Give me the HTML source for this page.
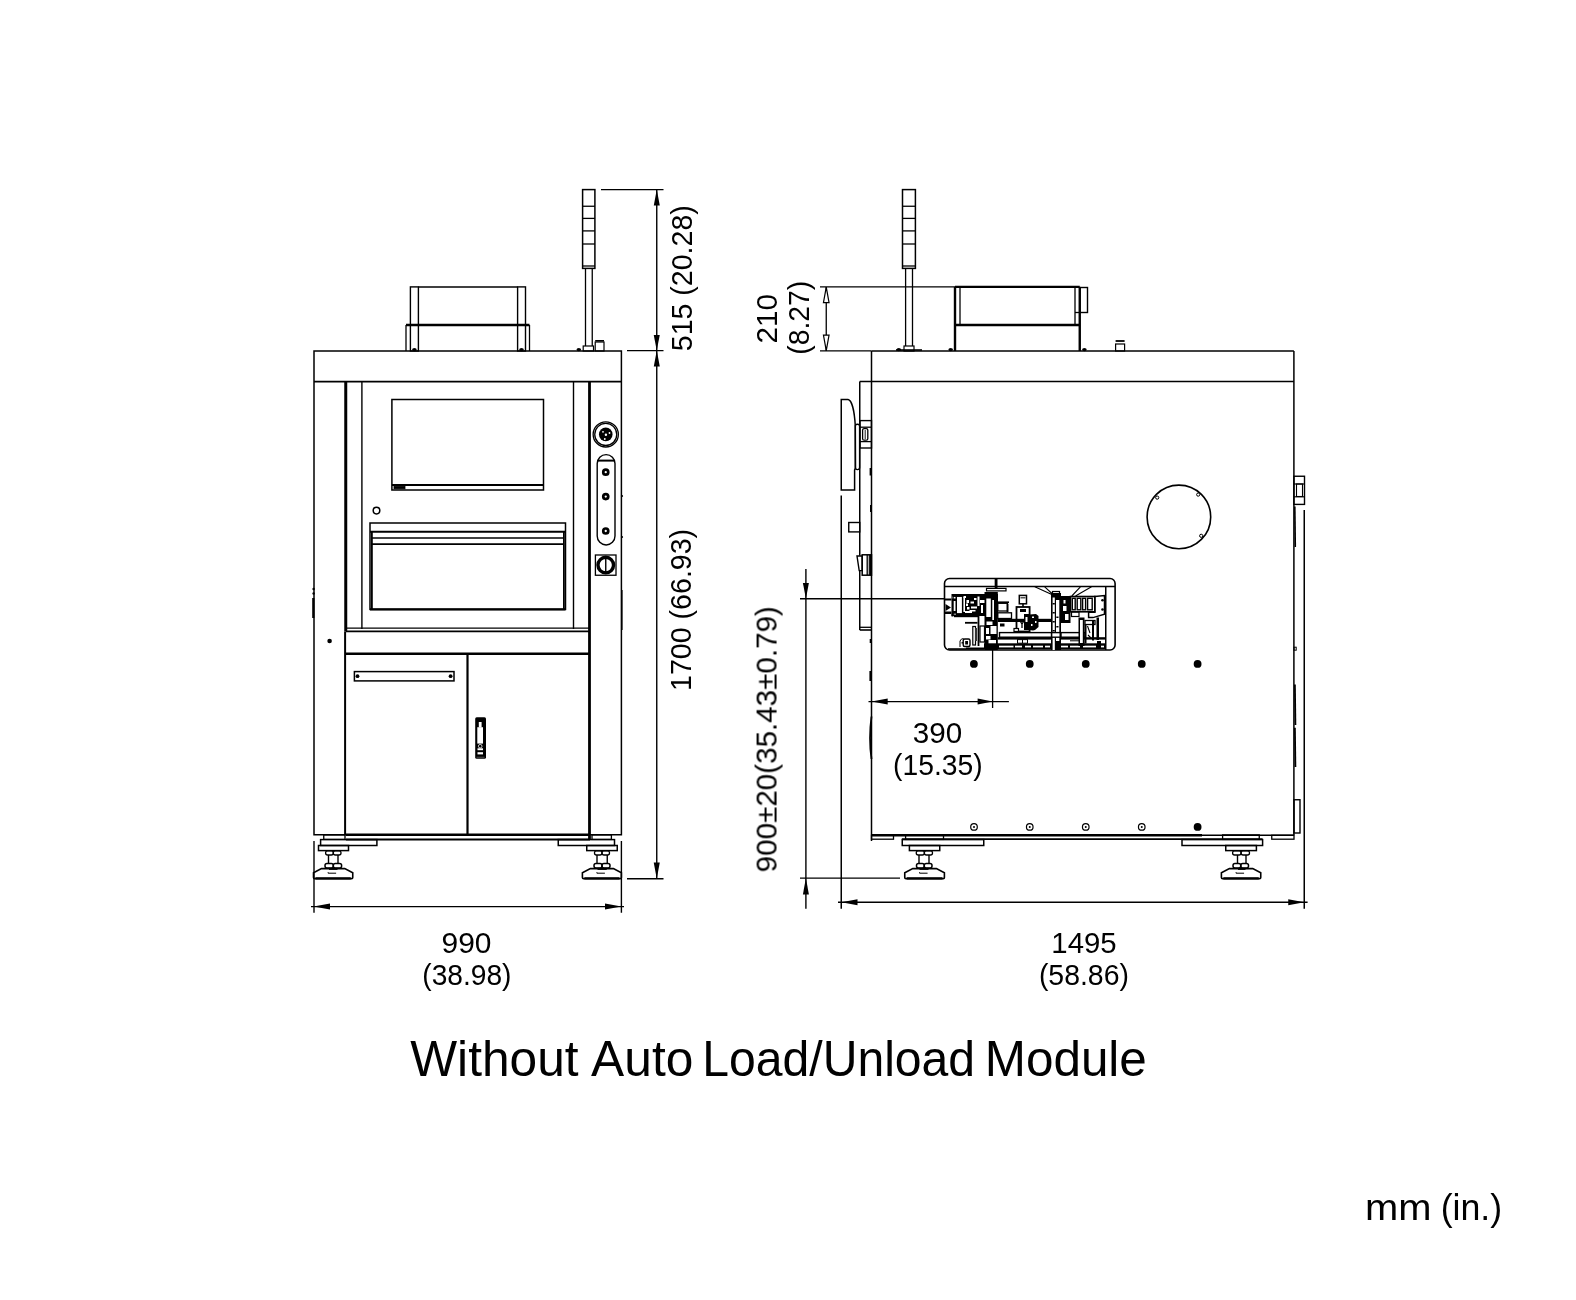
<!DOCTYPE html>
<html><head><meta charset="utf-8"><style>
html,body{margin:0;padding:0;background:#fff;}
svg{display:block;}
text{font-family:"Liberation Sans",sans-serif;fill:#000;stroke:none;}
</style></head><body>
<svg width="1576" height="1300" viewBox="0 0 1576 1300">
<rect x="0" y="0" width="1576" height="1300" fill="#fff"/>
<g stroke="#000" fill="none" stroke-linecap="butt">
<rect x="410.4" y="286.9" width="8.0" height="64.1" stroke-width="1.4" fill="none"/>
<rect x="517.6" y="286.9" width="7.9" height="64.1" stroke-width="1.4" fill="none"/>
<line x1="418.4" y1="286.9" x2="517.6" y2="286.9" stroke-width="1.5"/>
<line x1="406" y1="325" x2="529.5" y2="325" stroke-width="2.4"/>
<line x1="406" y1="325" x2="406" y2="351" stroke-width="1.3"/>
<line x1="529.5" y1="325" x2="529.5" y2="351" stroke-width="1.3"/>
<rect x="582.6" y="189.6" width="12.3" height="78.8" stroke-width="1.5" fill="none"/>
<line x1="582.6" y1="206.25" x2="594.9" y2="206.25" stroke-width="1.3"/>
<line x1="582.6" y1="218.4" x2="594.9" y2="218.4" stroke-width="1.3"/>
<line x1="582.6" y1="230.9" x2="594.9" y2="230.9" stroke-width="1.3"/>
<line x1="582.6" y1="244" x2="594.9" y2="244" stroke-width="1.3"/>
<line x1="582.6" y1="266" x2="594.9" y2="266" stroke-width="1.3"/>
<line x1="585.5" y1="268.4" x2="585.5" y2="346" stroke-width="1.3"/>
<line x1="592.25" y1="268.4" x2="592.25" y2="346" stroke-width="1.3"/>
<rect x="583.2" y="346" width="10.3" height="5" stroke-width="1.2" fill="none"/>
<rect x="595.2" y="342" width="8.8" height="9" stroke-width="1.2" fill="none"/>
<line x1="595.2" y1="340.8" x2="604" y2="340.8" stroke-width="1.6"/>
<ellipse cx="414.4" cy="349.6" rx="2.3" ry="1.6" fill="#000" stroke="none"/>
<ellipse cx="521.5" cy="349.6" rx="2.3" ry="1.6" fill="#000" stroke="none"/>
<ellipse cx="578.8" cy="349.6" rx="2.3" ry="1.6" fill="#000" stroke="none"/>
<ellipse cx="950.7" cy="349.6" rx="2.3" ry="1.6" fill="#000" stroke="none"/>
<ellipse cx="1084.4" cy="349.6" rx="2.3" ry="1.6" fill="#000" stroke="none"/>
<ellipse cx="898.8" cy="349.6" rx="2.3" ry="1.6" fill="#000" stroke="none"/>
<rect x="314" y="351" width="307.4" height="483.75" stroke-width="1.5" fill="none"/>
<line x1="314" y1="381.6" x2="621.4" y2="381.6" stroke-width="1.8"/>
<line x1="345.75" y1="381.6" x2="345.75" y2="631.5" stroke-width="3.0"/>
<line x1="345.1" y1="631.5" x2="345.1" y2="834.75" stroke-width="2.0"/>
<line x1="361.9" y1="381.6" x2="361.9" y2="629" stroke-width="1.4"/>
<line x1="573.5" y1="381.6" x2="573.5" y2="629" stroke-width="1.4"/>
<line x1="589.5" y1="381.6" x2="589.5" y2="839" stroke-width="2.8"/>
<rect x="391.9" y="399.5" width="151.6" height="90.5" stroke-width="1.5" fill="none"/>
<line x1="391.9" y1="485" x2="543.5" y2="485" stroke-width="1.8"/>
<rect x="394" y="486.4" width="11" height="2.4" stroke-width="0.8" fill="#000"/>
<circle cx="376.5" cy="510.6" r="3.3" stroke-width="1.5" fill="none"/>
<rect x="370" y="523" width="195.5" height="86.4" stroke-width="1.5" fill="none"/>
<line x1="370" y1="531.75" x2="565.5" y2="531.75" stroke-width="2.2"/>
<line x1="371.9" y1="538" x2="563.9" y2="538" stroke-width="1.5"/>
<line x1="371.9" y1="544.2" x2="563.9" y2="544.2" stroke-width="1.8"/>
<line x1="371.9" y1="531.75" x2="371.9" y2="609.4" stroke-width="1.8"/>
<line x1="563.9" y1="531.75" x2="563.9" y2="609.4" stroke-width="1.8"/>
<line x1="370" y1="609.4" x2="565.5" y2="609.4" stroke-width="2.4"/>
<line x1="345.9" y1="628.2" x2="589.5" y2="628.2" stroke-width="1.2"/>
<line x1="345.9" y1="631.4" x2="589.5" y2="631.4" stroke-width="1.9"/>
<line x1="345.9" y1="653.75" x2="589.5" y2="653.75" stroke-width="2.4"/>
<line x1="467.5" y1="653.75" x2="467.5" y2="834.75" stroke-width="2.2"/>
<rect x="354.4" y="671.6" width="99.6" height="9.3" stroke-width="1.5" fill="none"/>
<circle cx="357.5" cy="676.2" r="1.9" stroke-width="0" fill="#000"/>
<circle cx="450.6" cy="676.2" r="1.9" stroke-width="0" fill="#000"/>
<rect x="475.2" y="717.2" width="10.8" height="41.6" rx="1.5" fill="#000" stroke="none"/>
<rect x="477.3" y="727.2" width="5.7" height="16.4" fill="#fff" stroke="none"/>
<rect x="478.8" y="722" width="2.8" height="5.5" fill="#fff" stroke="none"/>
<path d="M477,721.5 Q480.2,718.6 483.5,721.5" stroke-width="1.0" fill="none"/>
<circle cx="480.2" cy="746.2" r="1.8" fill="none" stroke="#fff" stroke-width="0.8"/>
<rect x="477.5" y="748.3" width="5.5" height="1.9" fill="#fff" stroke="none"/>
<rect x="477.5" y="752.2" width="5.5" height="2.2" fill="#fff" stroke="none"/>
<rect x="476.5" y="756.8" width="8.0" height="0.7" fill="#777" stroke="none"/>
<circle cx="329.6" cy="641" r="2.3" stroke-width="0" fill="#000"/>
<line x1="345.9" y1="834.75" x2="589.5" y2="834.75" stroke-width="2.4"/>
<line x1="345.9" y1="839.4" x2="590" y2="839.4" stroke-width="2.0"/>
<circle cx="605.75" cy="434.4" r="12.6" stroke-width="1.3" fill="none"/>
<circle cx="605.75" cy="434.4" r="11.0" stroke-width="1.3" fill="none"/>
<circle cx="605.75" cy="434.4" r="6.8" stroke-width="0" fill="#000"/>
<circle cx="605.9" cy="434.8" r="1.2" stroke-width="0" fill="#fff"/>
<circle cx="603.0" cy="431.8" r="0.9" stroke-width="0" fill="#fff"/>
<circle cx="609.5" cy="433.0" r="0.9" stroke-width="0" fill="#fff"/>
<circle cx="604.8" cy="439.0" r="0.9" stroke-width="0" fill="#fff"/>
<rect x="597.2" y="454.6" width="17.8" height="90.4" rx="9" stroke-width="1.4" fill="none"/>
<line x1="598" y1="460.6" x2="614.2" y2="460.6" stroke-width="2.0"/>
<circle cx="605.75" cy="472.2" r="2.5" stroke-width="2.7" fill="none"/>
<circle cx="605.75" cy="496.6" r="2.5" stroke-width="2.7" fill="none"/>
<circle cx="605.75" cy="531" r="2.5" stroke-width="2.7" fill="none"/>
<rect x="595.4" y="555" width="20.6" height="20.25" stroke-width="1.3" fill="none"/>
<circle cx="605.75" cy="565.1" r="7.8" stroke-width="3.4" fill="none"/>
<line x1="605.75" y1="556.5" x2="605.75" y2="573.5" stroke-width="1.4"/>
<line x1="313.3" y1="598" x2="313.3" y2="618" stroke-width="2.2"/>
<circle cx="313.6" cy="589" r="1.2" stroke-width="0" fill="#000"/>
<circle cx="313.6" cy="593.5" r="1.2" stroke-width="0" fill="#000"/>
<circle cx="622" cy="496" r="1.1" stroke-width="0" fill="#000"/>
<circle cx="622" cy="537" r="1.1" stroke-width="0" fill="#000"/>
<line x1="621.8" y1="590" x2="621.8" y2="630" stroke-width="1.6"/>
<rect x="323.75" y="834.9" width="21.25" height="4.5" stroke-width="1.3" fill="none"/>
<rect x="320.6" y="839.6" width="56.3" height="5.9" stroke-width="1.5" fill="none"/>
<rect x="318.5" y="845.5" width="30.0" height="5.1" stroke-width="1.5" fill="none"/>
<rect x="325.6" y="850.8" width="7.7" height="4.2" rx="2" stroke-width="1.3" fill="none"/>
<rect x="333.3" y="850.8" width="7.7" height="4.2" rx="2" stroke-width="1.3" fill="none"/>
<line x1="328.5" y1="855.0" x2="328.5" y2="863.5" stroke-width="1.4"/>
<line x1="338" y1="855.0" x2="338" y2="863.5" stroke-width="1.4"/>
<rect x="325" y="863.6" width="8.3" height="4.4" rx="2" stroke-width="1.5" fill="none"/>
<rect x="333.3" y="863.6" width="8.3" height="4.4" rx="2" stroke-width="1.5" fill="none"/>
<line x1="329.0" y1="868.9" x2="337.5" y2="868.9" stroke-width="2.0"/>
<path d="M321.5,868.6 L344.75,868.6 L352.75,872.8 L352.75,877.4 Q352.75,878.6 351.55,878.6 L314.7,878.6 Q313.5,878.6 313.5,877.4 L313.5,872.8 Z" stroke-width="1.6" fill="none"/>
<line x1="315.5" y1="878.4" x2="350.75" y2="878.4" stroke-width="2.2"/>
<path d="M328.125,872.2 L328.125,873.2 L336.125,873.2" stroke-width="1.0" fill="none"/>
<rect x="592" y="834.9" width="19.4" height="4.5" stroke-width="1.3" fill="none"/>
<rect x="558.25" y="839.6" width="56.25" height="5.9" stroke-width="1.5" fill="none"/>
<rect x="586.75" y="845.5" width="30.5" height="5.1" stroke-width="1.5" fill="none"/>
<rect x="594.5" y="850.8" width="7.5" height="4.2" rx="2" stroke-width="1.3" fill="none"/>
<rect x="602.0" y="850.8" width="7.5" height="4.2" rx="2" stroke-width="1.3" fill="none"/>
<line x1="597" y1="855.0" x2="597" y2="863.5" stroke-width="1.4"/>
<line x1="607.25" y1="855.0" x2="607.25" y2="863.5" stroke-width="1.4"/>
<rect x="594" y="863.6" width="8.0" height="4.4" rx="2" stroke-width="1.5" fill="none"/>
<rect x="602.0" y="863.6" width="8.0" height="4.4" rx="2" stroke-width="1.5" fill="none"/>
<line x1="597.5" y1="868.9" x2="606.75" y2="868.9" stroke-width="2.0"/>
<path d="M590.4,868.6 L613.4,868.6 L621.4,872.8 L621.4,877.4 Q621.4,878.6 620.1999999999999,878.6 L583.6,878.6 Q582.4,878.6 582.4,877.4 L582.4,872.8 Z" stroke-width="1.6" fill="none"/>
<line x1="584.4" y1="878.4" x2="619.4" y2="878.4" stroke-width="2.2"/>
<path d="M596.9,872.2 L596.9,873.2 L604.9,873.2" stroke-width="1.0" fill="none"/>
<line x1="656.75" y1="189.6" x2="656.75" y2="878.75" stroke-width="1.4"/>
<line x1="601" y1="189.6" x2="663.5" y2="189.6" stroke-width="1.4"/>
<line x1="627" y1="350.6" x2="663.5" y2="350.6" stroke-width="1.4"/>
<line x1="627" y1="878.75" x2="663.5" y2="878.75" stroke-width="1.4"/>
<polygon points="656.75,189.6 653.75,205.6 659.75,205.6" fill="#000" stroke="none"/>
<polygon points="656.75,350.6 653.75,335.0 659.75,335.0" fill="#000" stroke="none"/>
<polygon points="656.75,350.6 653.75,366.5 659.75,366.5" fill="#000" stroke="none"/>
<polygon points="656.75,878.75 653.75,862.55 659.75,862.55" fill="#000" stroke="none"/>
<line x1="311" y1="906.6" x2="624" y2="906.6" stroke-width="1.4"/>
<polygon points="313.5,906.6 330.0,903.6 330.0,909.6" fill="#000" stroke="none"/>
<polygon points="621.4,906.6 605.0,903.6 605.0,909.6" fill="#000" stroke="none"/>
<line x1="314.0" y1="841" x2="314.0" y2="912.75" stroke-width="1.4"/>
<line x1="621.4" y1="841" x2="621.4" y2="912.75" stroke-width="1.4"/>
<rect x="902.5" y="189.6" width="12.9" height="78.8" stroke-width="1.5" fill="none"/>
<line x1="902.5" y1="206.25" x2="915.4" y2="206.25" stroke-width="1.3"/>
<line x1="902.5" y1="218.4" x2="915.4" y2="218.4" stroke-width="1.3"/>
<line x1="902.5" y1="230.9" x2="915.4" y2="230.9" stroke-width="1.3"/>
<line x1="902.5" y1="244" x2="915.4" y2="244" stroke-width="1.3"/>
<line x1="902.5" y1="266" x2="915.4" y2="266" stroke-width="1.3"/>
<line x1="905.6" y1="268.4" x2="905.6" y2="346" stroke-width="1.3"/>
<line x1="912.5" y1="268.4" x2="912.5" y2="346" stroke-width="1.3"/>
<rect x="904" y="346" width="10" height="5" stroke-width="1.2" fill="none"/>
<line x1="896" y1="350" x2="922" y2="350" stroke-width="1.6"/>
<line x1="955" y1="286.9" x2="1079.75" y2="286.9" stroke-width="2.4"/>
<line x1="955" y1="286.9" x2="955" y2="351" stroke-width="2.4"/>
<line x1="1079.75" y1="286.9" x2="1079.75" y2="351" stroke-width="2.4"/>
<line x1="955" y1="325" x2="1079.75" y2="325" stroke-width="2.4"/>
<line x1="960" y1="287" x2="960" y2="325" stroke-width="1.3"/>
<line x1="1075" y1="287" x2="1075" y2="325" stroke-width="1.3"/>
<rect x="1079.75" y="287.5" width="7.75" height="25.0" stroke-width="1.4" fill="none"/>
<line x1="1075" y1="312.5" x2="1079.75" y2="312.5" stroke-width="1.3"/>
<rect x="1115.6" y="344" width="9.0" height="7" stroke-width="1.2" fill="none"/>
<line x1="1115.6" y1="341" x2="1124.6" y2="341" stroke-width="1.8"/>
<line x1="871.5" y1="350.9" x2="1293.9" y2="350.9" stroke-width="1.5"/>
<line x1="1293.9" y1="350.9" x2="1293.9" y2="835.25" stroke-width="1.5"/>
<line x1="871.5" y1="350.9" x2="871.5" y2="841" stroke-width="1.5"/>
<line x1="859.75" y1="381.6" x2="1293.9" y2="381.6" stroke-width="1.5"/>
<line x1="859.75" y1="381.6" x2="859.75" y2="555.8" stroke-width="1.5"/>
<line x1="859.75" y1="570.5" x2="859.75" y2="630" stroke-width="1.5"/>
<line x1="859.75" y1="630" x2="871.5" y2="630" stroke-width="1.6"/>
<line x1="859.75" y1="627.3" x2="871.5" y2="627.3" stroke-width="1.3"/>
<path d="M841.25,490 L841.25,399.4 L848,399.4 C852,400 854.5,412 855.3,426 L855.5,468 L854.6,470 L854.6,490 Z" stroke-width="1.5" fill="none"/>
<rect x="855.3" y="424.2" width="4.3" height="45.4" rx="2" stroke-width="1.4" fill="none"/>
<rect x="860" y="420.6" width="11.5" height="27.4" stroke-width="1.4" fill="none"/>
<line x1="860" y1="427.2" x2="871.5" y2="427.2" stroke-width="1.3"/>
<line x1="860" y1="441.6" x2="871.5" y2="441.6" stroke-width="1.3"/>
<rect x="862.6" y="428.6" width="5.2" height="11.6" rx="1.5" stroke-width="1.3" fill="none"/>
<line x1="865.2" y1="430" x2="865.2" y2="439" stroke-width="0.9"/>
<line x1="841.25" y1="495.6" x2="841.25" y2="908.75" stroke-width="1.5"/>
<rect x="848.75" y="522.5" width="11.0" height="9.4" stroke-width="1.4" fill="none"/>
<path d="M857,556 L862.2,556 L862.2,570.6 L859.2,570.6 Z" stroke-width="1.4" fill="none"/>
<rect x="862.2" y="554.8" width="9.3" height="20.4" stroke-width="1.5" fill="none"/>
<line x1="867.2" y1="555" x2="867.2" y2="575" stroke-width="1.3"/>
<line x1="869.3" y1="555" x2="869.3" y2="575" stroke-width="1.2"/>
<line x1="870.8" y1="555" x2="870.8" y2="575" stroke-width="1.8"/>
<circle cx="1178.9" cy="516.9" r="31.8" stroke-width="1.6" fill="none"/>
<circle cx="1157.2" cy="497.6" r="1.6" stroke-width="1.0" fill="#fff"/>
<circle cx="1198.2" cy="494.6" r="1.6" stroke-width="1.0" fill="#fff"/>
<circle cx="1201.2" cy="535.8" r="1.6" stroke-width="1.0" fill="#fff"/>
<line x1="870.6" y1="639" x2="870.6" y2="643" stroke-width="1.8"/>
<line x1="870.4" y1="671" x2="870.4" y2="681" stroke-width="2.0"/>
<path d="M871.5,716.5 Q868.6,738 871.5,759" stroke-width="1.8" fill="none"/>
<line x1="870.6" y1="468" x2="870.6" y2="475.5" stroke-width="2.0"/>
<line x1="870.8" y1="505" x2="870.8" y2="512" stroke-width="1.6"/>
<line x1="1294.8" y1="506.5" x2="1295.3" y2="547" stroke-width="1.6"/>
<line x1="1294.9" y1="684.5" x2="1295.4" y2="725" stroke-width="1.8"/>
<line x1="1294.9" y1="727.7" x2="1295.4" y2="767" stroke-width="1.8"/>
<rect x="1294" y="647.2" width="2.2" height="3.0" stroke-width="1.0" fill="none"/>
<rect x="1293.9" y="476.25" width="10.6" height="28.15" stroke-width="1.4" fill="none"/>
<rect x="1296.5" y="484" width="6.0" height="12.5" stroke-width="1.1" fill="none"/>
<line x1="1293.9" y1="484" x2="1304.5" y2="484" stroke-width="1.2"/>
<line x1="1293.9" y1="496.8" x2="1304.5" y2="496.8" stroke-width="1.2"/>
<line x1="1304.25" y1="510" x2="1304.25" y2="908.75" stroke-width="1.5"/>
<rect x="1294" y="799.75" width="6" height="33.25" stroke-width="1.4" fill="none"/>
<rect x="944.5" y="578.5" width="170.6" height="71.5" rx="5" stroke-width="1.6" fill="none"/>
<line x1="944.5" y1="586.6" x2="1115.1" y2="586.6" stroke-width="1.5"/>
<line x1="1105.75" y1="586.6" x2="1105.75" y2="650" stroke-width="1.5"/>
<rect x="951.5" y="594" width="46.5" height="22" fill="#000" stroke="none"/>
<rect x="957" y="596.6" width="5" height="16.6" fill="#fff" stroke="none"/>
<rect x="963.4" y="597" width="1.6" height="15" fill="#fff" stroke="none"/>
<rect x="966.5" y="600" width="2.5" height="3" fill="#fff" stroke="none"/>
<rect x="970.5" y="601.5" width="3.5" height="2.0" fill="#fff" stroke="none"/>
<rect x="967" y="607" width="2.5" height="2.5" fill="#fff" stroke="none"/>
<rect x="971" y="606.5" width="6" height="2.0" fill="#fff" stroke="none"/>
<rect x="974" y="598" width="2.5" height="2" fill="#fff" stroke="none"/>
<rect x="965" y="611" width="7" height="2" fill="#fff" stroke="none"/>
<rect x="980" y="600" width="5" height="3" fill="#fff" stroke="none"/>
<rect x="987.5" y="599" width="3.5" height="17" fill="#fff" stroke="none"/>
<rect x="992.5" y="602" width="1.5" height="13" fill="#fff" stroke="none"/>
<rect x="953.5" y="613.5" width="2.5" height="1.5" fill="#fff" stroke="none"/>
<rect x="963.5" y="596" width="2.5" height="2" fill="#fff" stroke="none"/>
<rect x="977.5" y="596.5" width="2.0" height="9.5" fill="#fff" stroke="none"/>
<rect x="981" y="605" width="2" height="8" fill="#fff" stroke="none"/>
<rect x="966" y="603.5" width="2" height="2.5" fill="#fff" stroke="none"/>
<rect x="969.5" y="610" width="6.0" height="1.5" fill="#fff" stroke="none"/>
<rect x="952.5" y="596.5" width="3.0" height="2.0" fill="#fff" stroke="none"/>
<rect x="953" y="601" width="2.5" height="10" fill="#fff" stroke="none"/>
<rect x="953.2" y="596.4" width="9.2" height="17.6" stroke-width="1.0" fill="none"/>
<polygon points="945.5,604 951,607.5 945.5,611" fill="#000" stroke="none"/>
<rect x="945" y="598.5" width="6.5" height="2.0" fill="#000" stroke="none"/>
<rect x="945" y="611.5" width="6.5" height="2.5" fill="#000" stroke="none"/>
<rect x="951.5" y="614" width="2.0" height="2.5" fill="#000" stroke="none"/>
<line x1="954" y1="616.3" x2="978.5" y2="616.3" stroke-width="1.8"/>
<line x1="965" y1="622.8" x2="977.5" y2="622.8" stroke-width="1.8"/>
<line x1="978.5" y1="613" x2="978.5" y2="646" stroke-width="1.8"/>
<rect x="972.8" y="626.5" width="2.7" height="18.5" stroke-width="1.2" fill="none"/>
<rect x="975" y="628" width="2" height="13" fill="#333" stroke="none"/>
<rect x="963.2" y="639" width="6.8" height="7.5" rx="1.5" stroke-width="1.4" fill="none"/>
<rect x="965.2" y="641" width="2.8" height="3.5" fill="#000" stroke="none"/>
<line x1="961.5" y1="642.8" x2="963.2" y2="642.8" stroke-width="1.4"/>
<rect x="984.5" y="592" width="13.3" height="58" fill="#000" stroke="none"/>
<rect x="986.3" y="598.5" width="4.5" height="18.5" fill="#fff" stroke="none"/>
<rect x="992.3" y="600" width="1.7" height="20" fill="#fff" stroke="none"/>
<rect x="986.5" y="621.5" width="6.0" height="3.5" fill="#fff" stroke="none"/>
<rect x="990.5" y="626" width="6.0" height="8" fill="#fff" stroke="none"/>
<rect x="986" y="628" width="3" height="6" fill="#fff" stroke="none"/>
<rect x="986" y="636" width="4.5" height="3.5" fill="#fff" stroke="none"/>
<rect x="988.5" y="640" width="7.5" height="5.5" fill="#fff" stroke="none"/>
<rect x="980" y="626" width="4.5" height="16" fill="#fff" stroke="none"/>
<rect x="980" y="626" width="4.5" height="16" stroke-width="1.2" fill="none"/>
<rect x="986.5" y="588.4" width="19.5" height="2.5" fill="#fff" stroke="none"/>
<rect x="986.5" y="588.4" width="19.5" height="2.5" stroke-width="1.2" fill="none"/>
<rect x="994.7" y="578.5" width="2.8" height="9.9" fill="#000" stroke="none"/>
<line x1="997.8" y1="602.2" x2="1009" y2="602.2" stroke-width="1.6"/>
<rect x="997.8" y="603.3" width="9.7" height="7.7" stroke-width="1.3" fill="none"/>
<line x1="1007.5" y1="604" x2="1007.5" y2="612" stroke-width="1.8"/>
<rect x="997.8" y="612.8" width="13.7" height="5.7" stroke-width="1.3" fill="none"/>
<rect x="997.8" y="618.8" width="54.2" height="3.2" fill="#000" stroke="none"/>
<rect x="1000" y="623.5" width="4.5" height="3.0" fill="#000" stroke="none"/>
<rect x="1019.3" y="595.4" width="7.2" height="8.4" stroke-width="1.5" fill="none"/>
<rect x="1020.5" y="597" width="5.0" height="1.5" fill="#555" stroke="none"/>
<line x1="1023" y1="603.8" x2="1023" y2="607" stroke-width="1.6"/>
<rect x="1016.5" y="607" width="13.1" height="24.5" stroke-width="1.8" fill="none"/>
<rect x="1020" y="609" width="6" height="3" fill="#000" stroke="none"/>
<rect x="1024" y="614" width="5" height="16" fill="#000" stroke="none"/>
<rect x="1025.5" y="617" width="2.0" height="5" fill="#fff" stroke="none"/>
<path d="M1019.5,620 L1022,624 L1024.5,620 M1022,624 L1022,628" stroke-width="1.3" fill="none"/>
<rect x="1014" y="628.5" width="4" height="3.0" fill="#fff" stroke="none"/>
<rect x="1014" y="628.5" width="4.5" height="3.0" stroke-width="1.2" fill="none"/>
<path d="M1029.6,614.5 L1036,614 L1038.5,616 L1038.5,627 L1035,630 L1033,630.5 L1029.6,630 Z" stroke-width="0" fill="#000"/>
<rect x="1032" y="616.5" width="2" height="1.5" fill="#fff" stroke="none"/>
<rect x="1035" y="621" width="1.5" height="2" fill="#fff" stroke="none"/>
<rect x="1031" y="624" width="1.5" height="2" fill="#fff" stroke="none"/>
<rect x="999.5" y="632.6" width="52.0" height="4.6" stroke-width="1.4" fill="none"/>
<rect x="997.8" y="637.2" width="107.2" height="2.4" fill="#000" stroke="none"/>
<rect x="1017.5" y="639.6" width="10.0" height="3.6" fill="#fff" stroke="none"/>
<rect x="1017.5" y="639.6" width="10.0" height="3.6" stroke-width="1.0" fill="none"/>
<line x1="1022.5" y1="639.6" x2="1022.5" y2="643" stroke-width="1.0"/>
<rect x="984" y="643.3" width="122" height="5.9" fill="#000" stroke="none"/>
<line x1="966" y1="648.6" x2="984" y2="648.6" stroke-width="2.2"/>
<rect x="999" y="645.7" width="14.5" height="1.7" fill="#fff" stroke="none"/>
<rect x="1015" y="645.7" width="7" height="1.7" fill="#fff" stroke="none"/>
<rect x="1025" y="645.7" width="6" height="1.7" fill="#fff" stroke="none"/>
<rect x="1033" y="645.7" width="10" height="1.7" fill="#fff" stroke="none"/>
<rect x="1045" y="645.7" width="5" height="1.7" fill="#fff" stroke="none"/>
<rect x="1056" y="645.7" width="12" height="1.7" fill="#fff" stroke="none"/>
<rect x="1070" y="645.7" width="10" height="1.7" fill="#fff" stroke="none"/>
<rect x="1083" y="645.7" width="13" height="1.7" fill="#fff" stroke="none"/>
<rect x="1098" y="645.7" width="6" height="1.7" fill="#fff" stroke="none"/>
<rect x="1051" y="593" width="10" height="57" fill="#000" stroke="none"/>
<rect x="1052.6" y="597.5" width="2.2" height="52.5" fill="#fff" stroke="none"/>
<rect x="1056.0" y="600" width="3.3" height="41" fill="#fff" stroke="none"/>
<rect x="1052.6" y="603" width="2.2" height="1.5" fill="#000" stroke="none"/>
<rect x="1052.6" y="612" width="2.2" height="1.5" fill="#000" stroke="none"/>
<rect x="1052.6" y="621" width="2.2" height="1.5" fill="#000" stroke="none"/>
<rect x="1052.6" y="630" width="2.2" height="1.5" fill="#000" stroke="none"/>
<rect x="1056.3" y="616.5" width="2.2" height="1.5" fill="#000" stroke="none"/>
<rect x="1056.3" y="626" width="2.2" height="1.5" fill="#000" stroke="none"/>
<rect x="1052.5" y="591.5" width="7.0" height="3.5" stroke-width="1.2" fill="none"/>
<path d="M1034.8,586.8 L1051.8,594.6 M1044.7,586.8 L1052.5,594 M1091.5,586.8 L1075.5,596 M1080.4,586.8 L1071.8,596" stroke-width="1.1" fill="none"/>
<rect x="1061" y="596" width="9.5" height="27" fill="#000" stroke="none"/>
<rect x="1063.5" y="600" width="2.0" height="3.5" fill="#fff" stroke="none"/>
<rect x="1063" y="606" width="3.5" height="5" fill="#fff" stroke="none"/>
<rect x="1065" y="614" width="3.5" height="6" fill="#fff" stroke="none"/>
<rect x="1070.5" y="596.5" width="24.3" height="15.3" stroke-width="1.6" fill="none"/>
<rect x="1072.3" y="598.3" width="2.9" height="11.5" stroke-width="1.4" fill="none"/>
<rect x="1077.2" y="598.3" width="3.6" height="11.5" stroke-width="1.4" fill="none"/>
<rect x="1082.6" y="598.3" width="3.0" height="11.5" stroke-width="1.4" fill="none"/>
<rect x="1087.6" y="598.3" width="4.6" height="11.5" stroke-width="1.4" fill="none"/>
<rect x="1071.5" y="612" width="7.5" height="4.5" stroke-width="1.2" fill="none"/>
<path d="M1094.8,596.5 L1104.5,595.5 L1104.5,614.2 L1093,617.6 L1088.6,617.6 L1088.6,612.3 L1094.8,612.3 Z" stroke-width="1.5" fill="none"/>
<circle cx="1102.5" cy="600.2" r="1.3" stroke-width="0" fill="#000"/>
<circle cx="1102.5" cy="609.5" r="1.3" stroke-width="0" fill="#000"/>
<rect x="1061" y="632.6" width="24" height="4.6" stroke-width="1.4" fill="none"/>
<rect x="1052.6" y="632.8" width="6.7" height="4.2" fill="#fff" stroke="none"/>
<line x1="1051" y1="632.6" x2="1061" y2="632.6" stroke-width="1.4"/>
<line x1="1051" y1="637.2" x2="1061" y2="637.2" stroke-width="1.4"/>
<rect x="1078.5" y="617.5" width="6.0" height="28.5" fill="#000" stroke="none"/>
<rect x="1080" y="620" width="2.8" height="23" fill="#fff" stroke="none"/>
<rect x="1085" y="620.5" width="10" height="4.0" stroke-width="1.3" fill="none"/>
<rect x="1084.5" y="624.5" width="2.0" height="19.0" fill="#000" stroke="none"/>
<rect x="1092" y="620" width="2" height="20.5" fill="#000" stroke="none"/>
<path d="M1087.5,626 L1090,633 M1088,635 L1091,638" stroke-width="1.1" fill="none"/>
<rect x="1096.5" y="617.5" width="2.5" height="22.5" fill="#000" stroke="none"/>
<rect x="1097" y="641" width="4" height="8" fill="#000" stroke="none"/>
<line x1="1070" y1="640.8" x2="1080" y2="640.8" stroke-width="1.0"/>
<line x1="948" y1="649" x2="966" y2="649" stroke-width="1.6"/>
<path d="M960,647 L960,641 Q961,638.5 963.5,638.5" stroke-width="1.0" fill="none"/>
<circle cx="973.9" cy="663.9" r="3.9" stroke-width="0" fill="#000"/>
<circle cx="1029.75" cy="663.9" r="3.9" stroke-width="0" fill="#000"/>
<circle cx="1085.75" cy="663.9" r="3.9" stroke-width="0" fill="#000"/>
<circle cx="1141.75" cy="663.9" r="3.9" stroke-width="0" fill="#000"/>
<circle cx="1197.6" cy="663.9" r="3.9" stroke-width="0" fill="#000"/>
<circle cx="974" cy="826.9" r="3.3" stroke-width="1.2" fill="none"/>
<circle cx="974" cy="826.9" r="1.0" stroke-width="0" fill="#000"/>
<circle cx="1029.75" cy="826.9" r="3.3" stroke-width="1.2" fill="none"/>
<circle cx="1029.75" cy="826.9" r="1.0" stroke-width="0" fill="#000"/>
<circle cx="1085.75" cy="826.9" r="3.3" stroke-width="1.2" fill="none"/>
<circle cx="1085.75" cy="826.9" r="1.0" stroke-width="0" fill="#000"/>
<circle cx="1141.75" cy="826.9" r="3.3" stroke-width="1.2" fill="none"/>
<circle cx="1141.75" cy="826.9" r="1.0" stroke-width="0" fill="#000"/>
<circle cx="1197.6" cy="826.9" r="3.9" stroke-width="0" fill="#000"/>
<line x1="871.5" y1="835.25" x2="1202" y2="835.25" stroke-width="2.4"/>
<line x1="1202" y1="835.25" x2="1293.9" y2="835.25" stroke-width="1.5"/>
<line x1="901.9" y1="839.1" x2="1262.6" y2="839.1" stroke-width="1.8"/>
<rect x="871.5" y="835.25" width="22.0" height="3.95" stroke-width="1.3" fill="none"/>
<rect x="1271.75" y="835.25" width="22.25" height="3.95" stroke-width="1.3" fill="none"/>
<rect x="905.6" y="834.9" width="37.9" height="4.5" stroke-width="1.3" fill="none"/>
<rect x="902.25" y="839.6" width="81.5" height="5.9" stroke-width="1.5" fill="none"/>
<rect x="909.4" y="845.5" width="30.35" height="5.1" stroke-width="1.5" fill="none"/>
<rect x="916.25" y="850.8" width="8.12" height="4.2" rx="2" stroke-width="1.3" fill="none"/>
<rect x="924.375" y="850.8" width="8.12" height="4.2" rx="2" stroke-width="1.3" fill="none"/>
<line x1="919" y1="855.0" x2="919" y2="863.5" stroke-width="1.4"/>
<line x1="929" y1="855.0" x2="929" y2="863.5" stroke-width="1.4"/>
<rect x="916.5" y="863.6" width="7.75" height="4.4" rx="2" stroke-width="1.5" fill="none"/>
<rect x="924.25" y="863.6" width="7.75" height="4.4" rx="2" stroke-width="1.5" fill="none"/>
<line x1="919.5" y1="868.9" x2="928.5" y2="868.9" stroke-width="2.0"/>
<path d="M912.75,868.6 L936.4,868.6 L944.4,872.8 L944.4,877.4 Q944.4,878.6 943.1999999999999,878.6 L905.95,878.6 Q904.75,878.6 904.75,877.4 L904.75,872.8 Z" stroke-width="1.6" fill="none"/>
<line x1="906.75" y1="878.4" x2="942.4" y2="878.4" stroke-width="2.2"/>
<path d="M919.575,872.2 L919.575,873.2 L927.575,873.2" stroke-width="1.0" fill="none"/>
<rect x="1222.6" y="834.9" width="36.65" height="4.5" stroke-width="1.3" fill="none"/>
<rect x="1182" y="839.6" width="80.6" height="5.9" stroke-width="1.5" fill="none"/>
<rect x="1225.75" y="845.5" width="30.65" height="5.1" stroke-width="1.5" fill="none"/>
<rect x="1232.6" y="850.8" width="8.45" height="4.2" rx="2" stroke-width="1.3" fill="none"/>
<rect x="1241.05" y="850.8" width="8.45" height="4.2" rx="2" stroke-width="1.3" fill="none"/>
<line x1="1237.5" y1="855.0" x2="1237.5" y2="863.5" stroke-width="1.4"/>
<line x1="1246" y1="855.0" x2="1246" y2="863.5" stroke-width="1.4"/>
<rect x="1233" y="863.6" width="7.75" height="4.4" rx="2" stroke-width="1.5" fill="none"/>
<rect x="1240.75" y="863.6" width="7.75" height="4.4" rx="2" stroke-width="1.5" fill="none"/>
<line x1="1238.0" y1="868.9" x2="1245.5" y2="868.9" stroke-width="2.0"/>
<path d="M1229.4,868.6 L1252.75,868.6 L1260.75,872.8 L1260.75,877.4 Q1260.75,878.6 1259.55,878.6 L1222.6000000000001,878.6 Q1221.4,878.6 1221.4,877.4 L1221.4,872.8 Z" stroke-width="1.6" fill="none"/>
<line x1="1223.4" y1="878.4" x2="1258.75" y2="878.4" stroke-width="2.2"/>
<path d="M1236.075,872.2 L1236.075,873.2 L1244.075,873.2" stroke-width="1.0" fill="none"/>
<line x1="826.25" y1="286.9" x2="826.25" y2="350.9" stroke-width="1.3"/>
<line x1="820" y1="286.9" x2="955" y2="286.9" stroke-width="1.4"/>
<line x1="820" y1="350.9" x2="871.5" y2="350.9" stroke-width="1.4"/>
<polygon points="826.25,287.2 823.45,302.7 829.05,302.7" fill="#fff" stroke-width="1.2"/>
<polygon points="826.25,350.6 823.45,335.1 829.05,335.1" fill="#fff" stroke-width="1.2"/>
<line x1="805.9" y1="569" x2="805.9" y2="908.75" stroke-width="1.4"/>
<line x1="800" y1="598.75" x2="944.5" y2="598.75" stroke-width="1.4"/>
<line x1="800" y1="878.1" x2="900" y2="878.1" stroke-width="1.4"/>
<polygon points="805.9,598.75 802.9,583.0 808.9,583.0" fill="#000" stroke="none"/>
<polygon points="805.9,878.1 802.9,894.4 808.9,894.4" fill="#000" stroke="none"/>
<line x1="868.5" y1="701.6" x2="1008.9" y2="701.6" stroke-width="1.4"/>
<polygon points="871.5,701.6 887.7,698.6 887.7,704.6" fill="#000" stroke="none"/>
<polygon points="992.6,701.6 977.6,698.6 977.6,704.6" fill="#000" stroke="none"/>
<line x1="992.6" y1="645" x2="992.6" y2="708" stroke-width="1.3"/>
<line x1="995.75" y1="578.5" x2="995.75" y2="587" stroke-width="1.6"/>
<line x1="838" y1="902.25" x2="1307.6" y2="902.25" stroke-width="1.4"/>
<polygon points="841.25,902.25 857.5,899.25 857.5,905.25" fill="#000" stroke="none"/>
<polygon points="1304.25,902.25 1288.25,899.25 1288.25,905.25" fill="#000" stroke="none"/>
<g opacity="0.999">
<text transform="translate(441.50,952.70) scale(0.2994,0.2972)" font-size="100">990</text>
<text transform="translate(422.31,984.70) scale(0.2816,0.2958)" font-size="100">(38.98)</text>
<text transform="translate(1051.35,952.70) scale(0.2933,0.2958)" font-size="100">1495</text>
<text transform="translate(1038.89,984.51) scale(0.2843,0.2930)" font-size="100">(58.86)</text>
<text transform="translate(912.82,742.70) scale(0.2962,0.2958)" font-size="100">390</text>
<text transform="translate(893.10,774.60) scale(0.2826,0.2986)" font-size="100">(15.35)</text>
<text transform="translate(691.70,351.14) rotate(-90) scale(0.2854,0.2986)" font-size="100">515 (20.28)</text>
<text transform="translate(691.31,690.99) rotate(-90) scale(0.2861,0.2930)" font-size="100">1700 (66.93)</text>
<text transform="translate(776.70,343.49) rotate(-90) scale(0.2975,0.2958)" font-size="100">210</text>
<text transform="translate(808.70,354.70) rotate(-90) scale(0.2831,0.2958)" font-size="100">(8.27)</text>
<text transform="translate(776.46,872.38) rotate(-90) scale(0.2962,0.2923)" font-size="100">900±20(35.43±0.79)</text>
<text transform="translate(410.20,1076.00) scale(0.4970,0.4928)" font-size="100">Without</text>
<text transform="translate(591.10,1076.00) scale(0.4970,0.4928)" font-size="100">Auto</text>
<text transform="translate(702.35,1076.00) scale(0.4810,0.4928)" font-size="100">Load/Unload</text>
<text transform="translate(984.75,1076.00) scale(0.4943,0.4928)" font-size="100">Module</text>
<text transform="translate(1364.90,1219.70) scale(0.3993,0.3759)" font-size="100">mm</text>
<text transform="translate(1440.65,1219.70) scale(0.3575,0.3759)" font-size="100">(in.)</text>
</g>
</g>
</svg>
</body></html>
